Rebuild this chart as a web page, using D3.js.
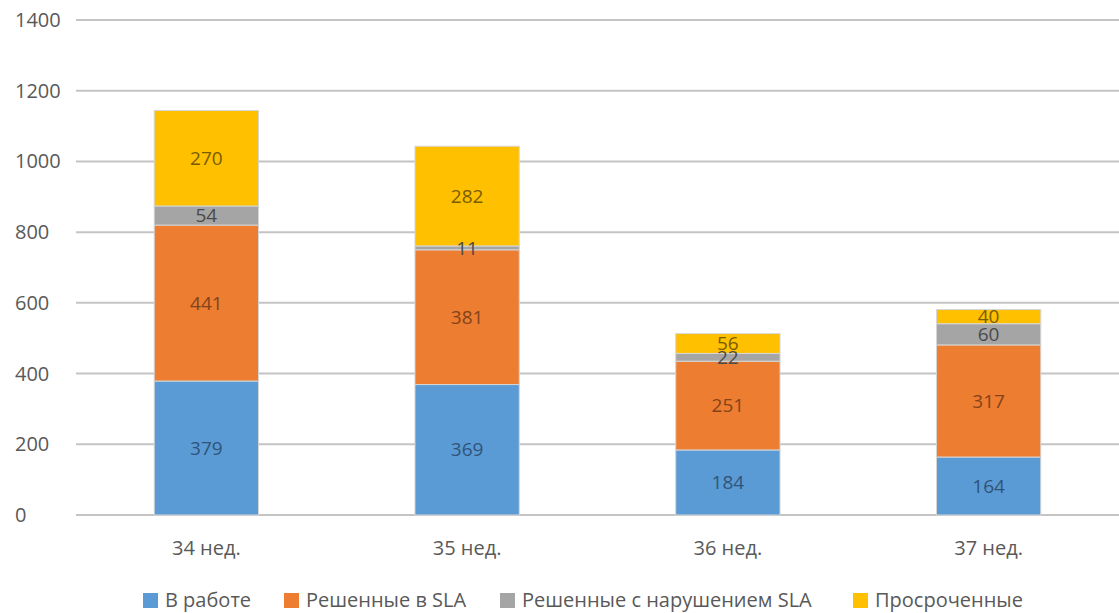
<!DOCTYPE html>
<html>
<head>
<meta charset="utf-8">
<script src="https://cdn.jsdelivr.net/npm/d3@7"></script>
<style>
  body { margin: 0; background: #fff; }
  text { font-family: "Open Sans", sans-serif; }
</style>
</head>
<body>
<div id="chart"></div>
<script>
// Chart data
const categories = ["34 нед.", "35 нед.", "36 нед.", "37 нед."];
const seriesNames = ["В работе", "Решенные в SLA", "Решенные с нарушением SLA", "Просроченные"];
const inWork = [379, 369, 184, 164];
const solvedInSla = [441, 381, 251, 317];
const solvedBreach = [54, 11, 22, 60];
const overdue = [270, 282, 56, 40];
const yTicks = [0, 200, 400, 600, 800, 1000, 1200, 1400];

const colors = ["#5b9bd5", "#ed7d31", "#a5a5a5", "#ffc000"];
const labelColors = ["#2f5479", "#84431a", "#4a4a4a", "#7a5c00"];

const width = 1119, height = 613;
const plot = { left: 76, right: 1119, top: 20, bottom: 515 };

let svg = d3.select("#chart").append("svg")
    .attr("width", width)
    .attr("height", height);

// Scales
let x = d3.scaleBand()
    .domain(categories)
    .range([plot.left, plot.right])
    .paddingInner(0.6)
    .paddingOuter(0.3);

let y = d3.scaleLinear()
    .domain([0, 1400])
    .range([plot.bottom, plot.top]);

// Gridlines + y labels (left aligned like the original)
svg.append("g")
    .selectAll("line")
    .data(yTicks)
    .join("line")
    .attr("x1", plot.left)
    .attr("x2", plot.right)
    .attr("y1", d => y(d))
    .attr("y2", d => y(d))
    .attr("stroke", "#c4c4c4")
    .attr("stroke-width", 2);

svg.append("g")
    .selectAll("text")
    .data(yTicks)
    .join("text")
    .attr("x", 15)
    .attr("y", d => y(d))
    .attr("dy", "0.35em")
    .attr("text-anchor", "start")
    .attr("font-size", 20)
    .attr("fill", "#595959")
    .text(d => d);

// Stack the series
let rows = categories.map((c, i) => ({
    cat: c,
    s0: inWork[i], s1: solvedInSla[i], s2: solvedBreach[i], s3: overdue[i]
}));
let stacked = d3.stack().keys(["s0", "s1", "s2", "s3"])(rows);

// Bars first, so labels of thin segments stay on top
let bars = svg.append("g");
stacked.forEach((layer, si) => {
    bars.append("g")
        .selectAll("rect")
        .data(layer)
        .join("rect")
        .attr("x", d => x(d.data.cat))
        .attr("y", d => y(d[1]))
        .attr("width", x.bandwidth())
        .attr("height", d => y(d[0]) - y(d[1]))
        .attr("fill", colors[si])
        .attr("stroke", "#d6d6d6")
        .attr("stroke-width", 1);
});

let labels = svg.append("g");
stacked.forEach((layer, si) => {
    labels.append("g")
        .selectAll("text")
        .data(layer)
        .join("text")
        .attr("x", d => x(d.data.cat) + x.bandwidth() / 2)
        .attr("y", d => (y(d[0]) + y(d[1])) / 2)
        .attr("dy", "0.35em")
        .attr("text-anchor", "middle")
        .attr("font-size", 19)
        .attr("fill", labelColors[si])
        .text(d => d[1] - d[0]);
});

// Category labels
svg.append("g")
    .selectAll("text")
    .data(categories)
    .join("text")
    .attr("x", d => x(d) + x.bandwidth() / 2)
    .attr("y", 548)
    .attr("dy", "0.35em")
    .attr("text-anchor", "middle")
    .attr("font-size", 20)
    .attr("fill", "#595959")
    .text(d => d);

// Legend
const legendX = [143, 284, 500, 853];
let legend = svg.append("g");
seriesNames.forEach((name, i) => {
    legend.append("rect")
        .attr("x", legendX[i])
        .attr("y", 593)
        .attr("width", 15)
        .attr("height", 15)
        .attr("fill", colors[i]);
    legend.append("text")
        .attr("x", legendX[i] + 22)
        .attr("y", 600)
        .attr("dy", "0.35em")
        .attr("font-size", 20)
        .attr("fill", "#595959")
        .text(name);
});
</script>
</body>
</html>
